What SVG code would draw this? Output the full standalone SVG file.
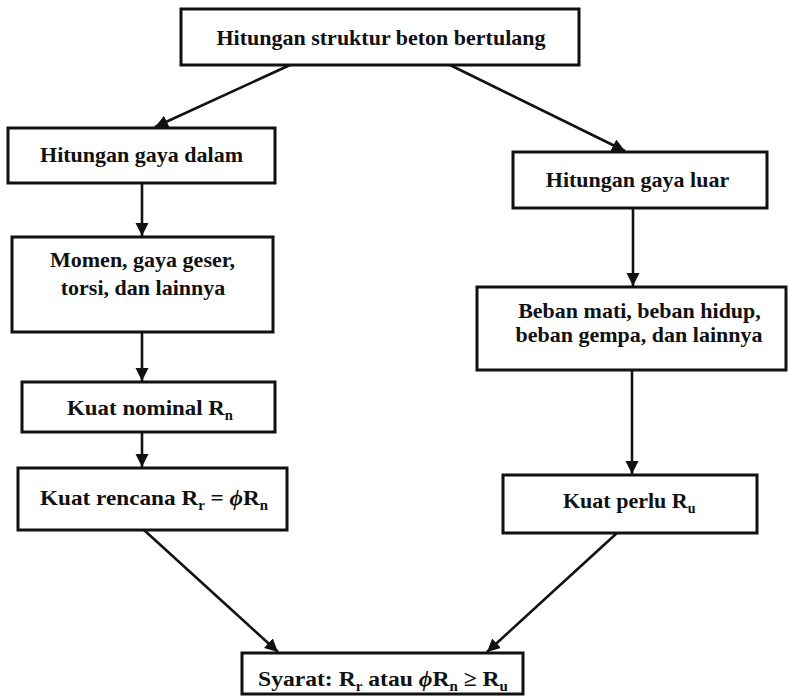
<svg xmlns="http://www.w3.org/2000/svg" width="788" height="699" viewBox="0 0 788 699">
<style>
.box{fill:#fff;stroke:#111;stroke-width:3}
.t{font-family:"Liberation Serif","Times New Roman",serif;font-weight:bold;font-size:22px;fill:#111}
.c{text-anchor:middle}
.sub{font-size:14px}
.phi{font-style:italic}
.edge{stroke:#111;stroke-width:2.6;fill:none;marker-end:url(#ah)}
</style>
<defs>
<marker id="ah" markerUnits="userSpaceOnUse" markerWidth="14" markerHeight="14" refX="13" refY="6.5" orient="auto">
<path d="M0,0 L13,6.5 L0,13 z" fill="#111"/>
</marker>
</defs>
<rect width="788" height="699" fill="#fff"/>
<g id="connectors">
<line class="edge" x1="290" y1="65" x2="155" y2="127"/>
<line class="edge" x1="448" y1="64" x2="625" y2="151"/>
<line class="edge" x1="142" y1="183" x2="142" y2="236"/>
<line class="edge" x1="633" y1="208" x2="633" y2="286"/>
<line class="edge" x1="142" y1="332" x2="142" y2="381"/>
<line class="edge" x1="632" y1="370" x2="632" y2="474"/>
<line class="edge" x1="142" y1="432" x2="142" y2="467"/>
<line class="edge" x1="144" y1="530" x2="278" y2="652"/>
<line class="edge" x1="617" y1="533" x2="487" y2="652"/>
</g>
<g id="n-top">
<rect class="box" x="181" y="9" width="398" height="56"/>
<text class="t c" x="381" y="45">Hitungan struktur beton bertulang</text>
</g>
<g id="n-gaya-dalam">
<rect class="box" x="8" y="128" width="267" height="55"/>
<text class="t c" x="141.5" y="162">Hitungan gaya dalam</text>
</g>
<g id="n-momen">
<rect class="box" x="12" y="237" width="261" height="95"/>
<text class="t c" x="142.5" y="267">Momen, gaya geser,</text>
<text class="t c" x="143" y="295">torsi, dan lainnya</text>
</g>
<g id="n-kuat-nominal">
<rect class="box" x="22" y="382" width="253" height="50"/>
<text class="t" x="67" y="415" textLength="166" lengthAdjust="spacingAndGlyphs">Kuat nominal R<tspan class="sub" dy="5">n</tspan></text>
</g>
<g id="n-kuat-rencana">
<rect class="box" x="18" y="468" width="269" height="62"/>
<text class="t" x="40" y="505" textLength="228" lengthAdjust="spacingAndGlyphs">Kuat rencana R<tspan class="sub" dy="5">r</tspan><tspan dy="-5"> = </tspan><tspan class="phi">ϕ</tspan>R<tspan class="sub" dy="5">n</tspan></text>
</g>
<g id="n-gaya-luar">
<rect class="box" x="513" y="152" width="254" height="56"/>
<text class="t c" x="637.5" y="187">Hitungan gaya luar</text>
</g>
<g id="n-beban">
<rect class="box" x="477" y="287" width="309" height="83"/>
<text class="t c" x="639.5" y="318">Beban mati, beban hidup,</text>
<text class="t c" x="639" y="342">beban gempa, dan lainnya</text>
</g>
<g id="n-kuat-perlu">
<rect class="box" x="503" y="475" width="254" height="58"/>
<text class="t" x="563" y="508">Kuat perlu R<tspan class="sub" dy="5">u</tspan></text>
</g>
<g id="n-syarat">
<rect class="box" x="242" y="653" width="281" height="41"/>
<text class="t" x="258" y="686" textLength="250" lengthAdjust="spacingAndGlyphs">Syarat: R<tspan class="sub" dy="5">r</tspan><tspan dy="-5"> atau </tspan><tspan class="phi">ϕ</tspan>R<tspan class="sub" dy="5">n</tspan><tspan dy="-5"> ≥ R</tspan><tspan class="sub" dy="5">u</tspan></text>
</g>
</svg>
